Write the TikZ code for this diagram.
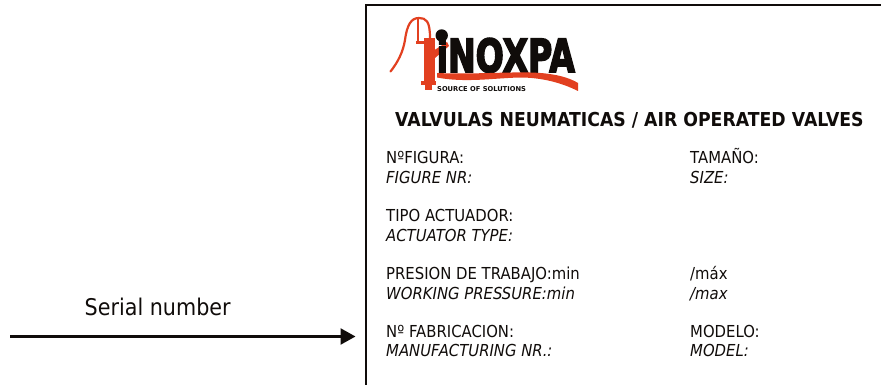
\documentclass[tikz,border=0pt]{standalone}
\usepackage{fontspec}
\setmainfont{DejaVu Sans}[FakeStretch=0.9]
\newfontfamily\logofont{DejaVu Sans Bold}[FakeBold=4]
\newfontfamily\sosfont{DejaVu Sans Bold}
\usetikzlibrary{arrows.meta}
\definecolor{pumpred}{RGB}{226,64,32}
\definecolor{ink}{RGB}{16,12,10}
\tikzset{
  lbl/.style={anchor=base west,inner sep=0pt,font=\fontsize{16.5}{19}\selectfont,text=ink},
  lbli/.style={lbl,font=\fontsize{16.5}{19}\selectfont\itshape},
  pump/.style={fill=pumpred,draw=none},
}
\begin{document}
\begin{tikzpicture}[x=1pt,y=-1pt]
\useasboundingbox (0,0) rectangle (881,385);
% frame (open at the bottom)
\coordinate (fbl) at (366,385);
\coordinate (ftl) at (366,5.5);
\coordinate (ftr) at (881,5.5);
\draw[line width=2pt,ink] (fbl) -- (ftl) -- (ftr);
% logo
\draw[pumpred,line width=2.2pt,line cap=round] (390.5,71.5) .. controls (398,62) and (403,52) .. (405,40) .. controls (407,25) and (411,18) .. (419,18) .. controls (426,18) and (430,21) .. (430,38);
\draw[pumpred,line width=1.2pt] (418,19) -- (418,42);
\path[pump] (423.5,38) rectangle (435,82);
\path[pump] (416,41) rectangle (424,44.5);
\path[pump] (433,51) -- (447,42) -- (449,46) -- (435,58) -- cycle;
\path[pump] (421,81) rectangle (436,85);
\path[pump] (425,84) rectangle (432,90.5);
\node[anchor=base west,inner sep=0pt,text=ink,font=\logofont\fontsize{38}{38}\selectfont,xscale=0.87,yscale=1.2] (logotext) at (436.5,72) {iNOXPA};
\fill[ink] (441.7,35.5) circle (6.2);
\path[pump] (437,73) .. controls (470,74.5) and (500,72) .. (530,72.5) .. controls (555,73) and (570,78) .. (578,83) -- (578,91) .. controls (560,82) and (540,77.5) .. (520,77.5) .. controls (495,78) and (465,83) .. (437,77.5) -- cycle;
\node[anchor=base west,inner sep=0pt,text=ink,font=\sosfont\fontsize{6.7}{8}\selectfont] (sos) at (437,91.5) {SOURCE OF SOLUTIONS};
% title
\node[anchor=base west,inner sep=0pt,text=ink,font=\bfseries\fontsize{19.2}{22}\selectfont] (title) at (395,127) {VALVULAS NEUMATICAS / AIR OPERATED VALVES};
% labels
\node[lbl] (a1) at (386,164) {NºFIGURA:};
\node[lbli] (a2) at (386,183) {FIGURE NR:};
\node[lbl] (b1) at (690,164) {TAMAÑO:};
\node[lbli] (b2) at (690,183) {SIZE:};
\node[lbl] (c1) at (386,221.5) {TIPO ACTUADOR:};
\node[lbli] (c2) at (386,241) {ACTUATOR TYPE:};
\node[lbl] (d1) at (386,279.5) {PRESION DE TRABAJO:min};
\node[lbli] (d2) at (386,299) {WORKING PRESSURE:min};
\node[lbl] (e1) at (690,279.5) {/máx};
\node[lbli] (e2) at (690,299) {/max};
\node[lbl] (f1) at (386,337) {Nº FABRICACION:};
\node[lbli] (f2) at (386,356.5) {MANUFACTURING NR.:};
\node[lbl] (g1) at (690,337) {MODELO:};
\node[lbli] (g2) at (690,356.5) {MODEL:};
% serial number
\node[anchor=base west,inner sep=0pt,text=ink,font=\fontsize{23}{26}\selectfont] (sn) at (84.5,315) {Serial number};
\coordinate (as) at (10,336.5);
\coordinate (ae) at (355.5,336.5);
\draw[line width=2.4pt,ink,-{Triangle[length=15pt,width=16pt]}] (as) -- (ae);
\end{tikzpicture}
\end{document}
